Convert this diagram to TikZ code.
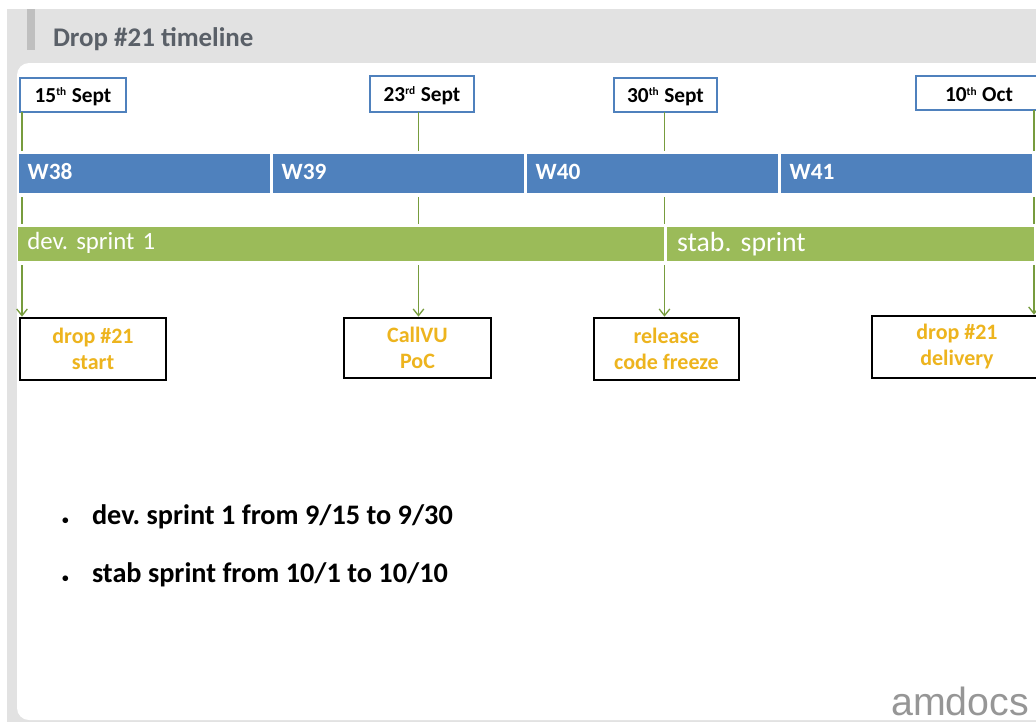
\documentclass[tikz,border=0pt]{standalone}
\usepackage{fontspec}
\setmainfont{Carlito}
\newfontfamily\logofont{Liberation Sans}
\usetikzlibrary{arrows.meta}
\definecolor{pagegray}{HTML}{E2E2E2}
\definecolor{bargray}{HTML}{BFBFBF}
\definecolor{titlegray}{HTML}{5A6068}
\definecolor{wkblue}{HTML}{4F81BD}
\definecolor{sprgreen}{HTML}{9BBB59}
\definecolor{linkgreen}{HTML}{779C3E}
\definecolor{mileorange}{HTML}{EDB41E}
\definecolor{logogray}{HTML}{969696}
\newcommand{\bx}[7]{%
  \pgfmathsetmacro{\cx}{(#2+#4)/2}%
  \pgfmathsetmacro{\cy}{(#3+#5)/2}%
  \pgfmathsetmacro{\bw}{(#4-#2)*0.75}%
  \pgfmathsetmacro{\bh}{(#5-#3)*0.75}%
  \node[#6,minimum width=\bw pt,minimum height=\bh pt] (#1) at (\cx,\cy) {#7};%
}
\newcommand{\sx}[1]{\raisebox{0.62ex}{\fontsize{8.5}{9}\selectfont #1}\hspace{0.5pt}}
\newcommand{\up}[2]{\raisebox{#1}[\height][\depth]{#2}}
\tikzset{
  every node/.style={inner sep=0pt,outer sep=0pt},
  datebox/.style={draw=wkblue,line width=1.1pt,fill=white,text=black,font=\fontsize{16}{18}\selectfont\bfseries,align=center},
  weekbox/.style={fill=wkblue,text=white,font=\fontsize{17.5}{19}\selectfont\bfseries,align=left,text width=\bw pt-13pt},
  devbox/.style={fill=sprgreen,text=white,font=\frenchspacing\fontsize{18.6}{20}\selectfont,align=left,text width=\bw pt-14pt},
  stabbox/.style={fill=sprgreen,text=white,font=\frenchspacing\fontsize{20.8}{22}\selectfont,align=left,text width=\bw pt-16pt},
  milebox/.style={draw=black,line width=1.1pt,fill=white,text=mileorange,font=\fontsize{16.5}{19.5}\selectfont\bfseries,align=center},
  linkline/.style={draw=linkgreen,line width=1pt},
  linkarrow/.style={linkline,-{Straight Barb[length=5pt,width=8pt]}},
  bullettext/.style={anchor=west,text=black,font=\frenchspacing\fontsize{21.2}{24}\selectfont\bfseries},
}
\begin{document}
\begin{tikzpicture}[x=0.75pt,y=-0.75pt]
\useasboundingbox (0,0) rectangle (1036,722);
\clip (0,0) rectangle (1036,722);
\fill[pagegray] (7,9) rectangle (1040,722);
\fill[bargray] (27,9) rectangle (35,50);
\node[anchor=west,text=titlegray,font=\fontsize{20.2}{22}\selectfont\bfseries] (title) at (53,39) {Drop \#21 timeline};
\fill[white,rounded corners=9pt] (17,63) rectangle (1050,720);
% date boxes
\bx{d1}{20}{78}{126}{112}{datebox}{\up{-1.4pt}{15\sx{th} Sept}}
\bx{d2}{370}{76}{474}{112}{datebox}{\up{-1.4pt}{23\sx{rd} Sept}}
\bx{d3}{614}{78}{717}{112}{datebox}{\up{-1.4pt}{30\sx{th} Sept}}
\bx{d4}{916}{76}{1042}{110}{datebox}{\up{-1pt}{10\sx{th} Oct}}
% weeks
\bx{w1}{19}{154}{270}{193}{weekbox}{\up{1.5pt}{W38}}
\bx{w2}{273}{154}{524}{193}{weekbox}{\up{1.5pt}{W39}}
\bx{w3}{527}{154}{778}{193}{weekbox}{\up{1.5pt}{W40}}
\bx{w4}{781}{154}{1032}{193}{weekbox}{\up{1.5pt}{W41}}
% sprints
\bx{s1}{18}{227}{663.5}{261}{devbox}{\up{1.2pt}{dev. sprint 1}}
\bx{s2}{666.5}{227}{1034}{261}{stabbox}{stab. sprint}
% milestones
\bx{m1}{20}{318}{166}{380}{milebox}{drop \#21\\start}
\bx{m2}{344}{318}{491}{378}{milebox}{CallVU\\PoC}
\bx{m3}{594}{318}{739}{380}{milebox}{release\\code freeze}
\bx{m4}{872}{316}{1042}{378}{milebox}{drop \#21\\delivery}
% connector columns
\coordinate (c1) at (22,0);
\coordinate (c2) at (418.5,0);
\coordinate (c3) at (664.5,0);
\coordinate (c4) at (1034,0);
\draw[linkline,shorten >=2.2pt] (d1.south -| c1) -- (w1.north -| c1);
\draw[linkline,shorten >=2.2pt] (d2.south -| c2) -- (w2.north -| c2);
\draw[linkline,shorten >=2.2pt] (d3.south -| c3) -- (w3.north -| c3);
\draw[linkline,shorten >=2.2pt] (d4.south -| c4) -- (w4.north -| c4);
\draw[linkline,shorten <=3pt,shorten >=2.2pt] (w1.south -| c1) -- (s1.north -| c1);
\draw[linkline,shorten <=3pt,shorten >=2.2pt] (w2.south -| c2) -- (s1.north -| c2);
\draw[linkline,shorten <=3pt,shorten >=2.2pt] (w3.south -| c3) -- (s1.north -| c3);
\draw[linkline,shorten <=3pt,shorten >=2.2pt] (w4.south -| c4) -- (s2.north -| c4);
\draw[linkarrow,shorten <=3pt,shorten >=1pt] (s1.south -| c1) -- (m1.north -| c1);
\draw[linkarrow,shorten <=3pt,shorten >=1pt] (s1.south -| c2) -- (m2.north -| c2);
\draw[linkarrow,shorten <=3pt,shorten >=1pt] (s1.south -| c3) -- (m3.north -| c3);
\draw[linkarrow,shorten <=3pt,shorten >=1pt] (s2.south -| c4) -- (m4.north -| c4);
% bullets
\node[bullettext] (b1) at (62,517) {\makebox[22.5pt][l]{\fontsize{10}{10}\selectfont •}dev. sprint 1 from 9/15 to 9/30};
\node[bullettext] (b2) at (62,575) {\makebox[22.5pt][l]{\fontsize{10}{10}\selectfont •}stab sprint from 10/1 to 10/10};
\node[anchor=east,text=logogray,font=\fontsize{29.5}{31}\selectfont\logofont] (logo) at (1029,701) {amdocs};
\end{tikzpicture}
\end{document}
